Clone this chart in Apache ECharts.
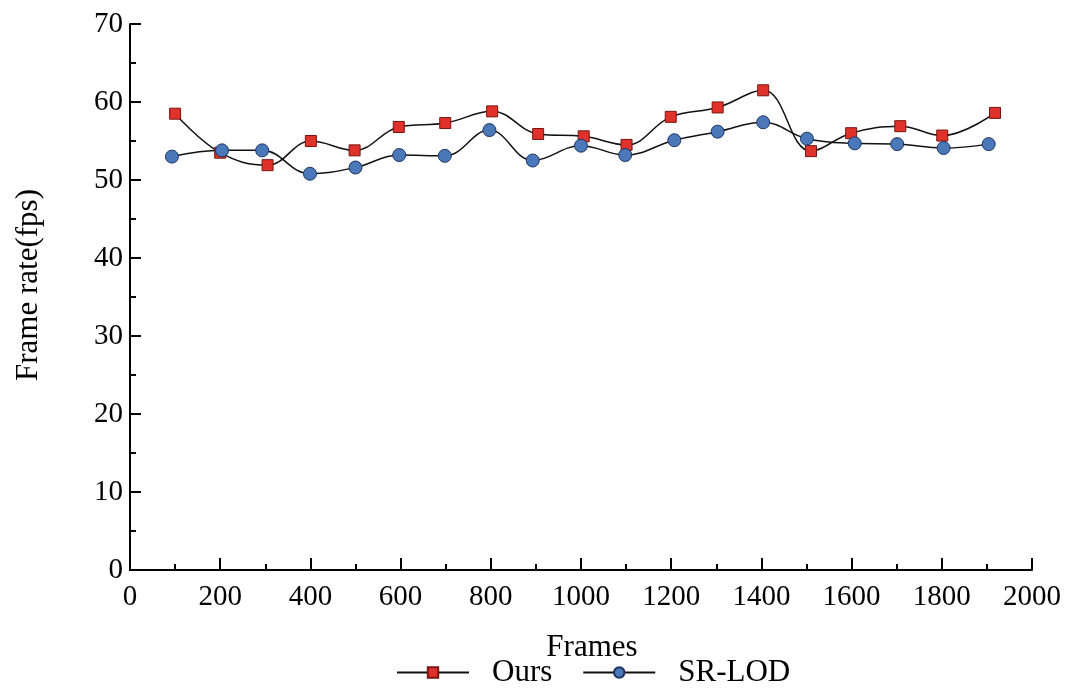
<!DOCTYPE html>
<html>
<head>
<meta charset="utf-8">
<script src="https://cdn.jsdelivr.net/npm/echarts@6/dist/echarts.min.js"></script>
<style>
    html, body { margin: 0; padding: 0; background: #fff; }
    #chart { width: 1073px; height: 688px; }
</style>
</head>
<body>
<div id="chart"></div>
<script>
    // x positions (frames) and frame rates
    let oursFrames = [100, 200, 305, 401, 498, 596, 699, 803, 905, 1006, 1101, 1199, 1303, 1404, 1510, 1599, 1708, 1801, 1918];
    let oursFps = [58.5, 53.5, 51.9, 55.0, 53.8, 56.8, 57.3, 58.8, 55.9, 55.6, 54.5, 58.1, 59.3, 61.5, 53.7, 56.0, 56.9, 55.7, 58.6];
    let srFrames = [93, 204, 293, 399, 500, 597, 698, 797, 893, 1000, 1098, 1207, 1303, 1404, 1501, 1607, 1701, 1804, 1904];
    let srFps = [53.0, 53.8, 53.8, 50.8, 51.6, 53.2, 53.1, 56.4, 52.5, 54.4, 53.2, 55.1, 56.2, 57.4, 55.3, 54.7, 54.6, 54.1, 54.6];

    let seriesNames = ['Ours', 'SR-LOD'];

    function pairs(xs, ys) {
        return xs.map(function (x, i) { return [x, ys[i]]; });
    }

    let myChart = echarts.init(document.getElementById('chart'));

    let font = 'Liberation Serif';
    let axisLine = { show: true, onZero: false, lineStyle: { color: '#000', width: 2 } };

    let option = {
        animation: false,
        textStyle: { fontFamily: font, color: '#000' },
        grid: { left: 130, right: 41, top: 24, bottom: 118 },
        legend: {
            data: seriesNames,
            top: 652,
            left: 391,
            itemWidth: 72,
            itemHeight: 13,
            itemGap: 30,
            formatter: function (name) { return '{g|}' + name; },
            textStyle: {
                fontFamily: font, fontSize: 31, color: '#000',
                rich: { g: { width: 18 } }
            }
        },
        xAxis: {
            type: 'value',
            min: 0,
            max: 2000,
            interval: 200,
            name: 'Frames',
            nameLocation: 'middle',
            nameGap: 62,
            nameTextStyle: { fontSize: 31, color: '#000', padding: [0, 0, 0, 22] },
            axisLine: axisLine,
            axisTick: { show: true, inside: true, length: 12, lineStyle: { color: '#000', width: 2 } },
            minorTick: { show: true, splitNumber: 2, length: 6, lineStyle: { color: '#000', width: 2 } },
            axisLabel: { fontSize: 29, color: '#000', margin: 13, formatter: function (v) { return String(v); } },
            splitLine: { show: false }
        },
        yAxis: {
            type: 'value',
            min: 0,
            max: 70,
            interval: 10,
            name: 'Frame rate(fps)',
            nameLocation: 'middle',
            nameGap: 86,
            nameTextStyle: { fontSize: 31, color: '#000', padding: [0, 0, 0, 24] },
            axisLine: axisLine,
            axisTick: { show: true, inside: true, length: 11, lineStyle: { color: '#000', width: 2 } },
            minorTick: { show: true, splitNumber: 2, length: 6, lineStyle: { color: '#000', width: 2 } },
            axisLabel: { fontSize: 29, color: '#000', margin: 7 },
            splitLine: { show: false }
        },
        series: [
            {
                name: 'Ours',
                type: 'line',
                smooth: 0.4,
                symbol: 'rect',
                symbolSize: 11,
                lineStyle: { color: '#111', width: 1.5 },
                itemStyle: { color: '#e0322a', borderColor: '#7a1410', borderWidth: 1 },
                data: pairs(oursFrames, oursFps)
            },
            {
                name: 'SR-LOD',
                type: 'line',
                smooth: 0.4,
                symbol: 'circle',
                symbolSize: 13,
                lineStyle: { color: '#111', width: 1.5 },
                itemStyle: { color: '#4a78b8', borderColor: '#1d3560', borderWidth: 1 },
                data: pairs(srFrames, srFps)
            }
        ]
    };

    myChart.setOption(option);
</script>
</body>
</html>
